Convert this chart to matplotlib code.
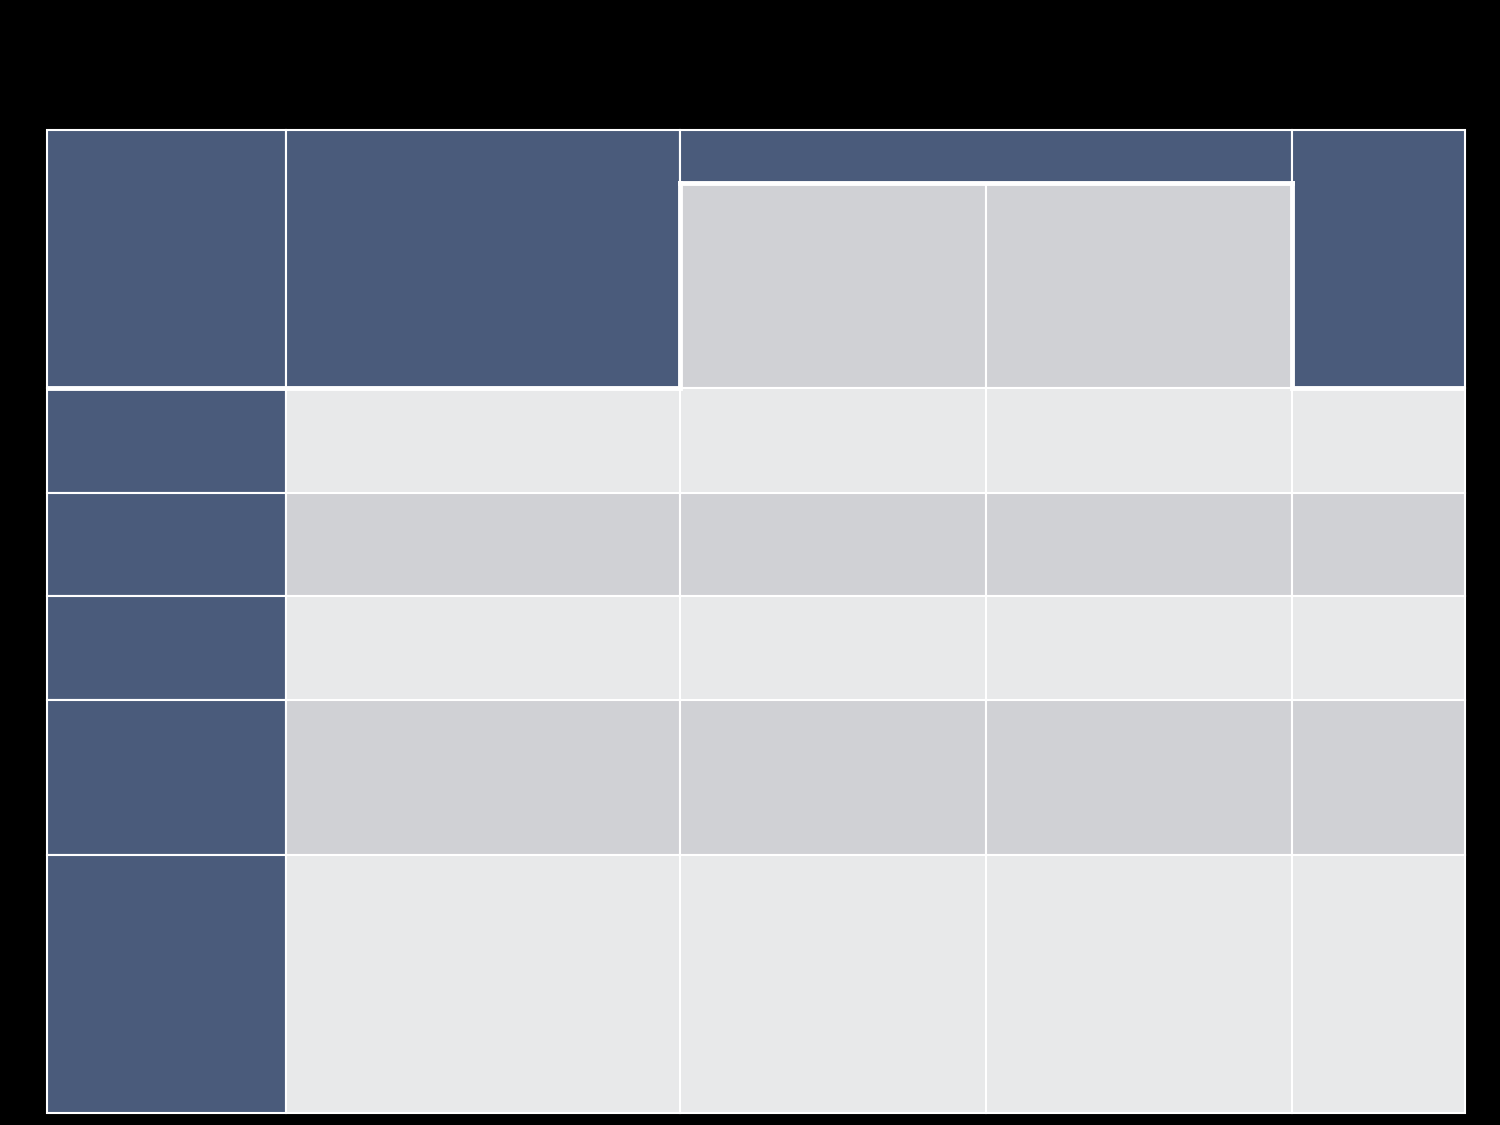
import numpy as np
import matplotlib
matplotlib.use('Agg')
from matplotlib import pyplot as plt
from matplotlib.patches import Rectangle

# table structure (pixel units of the 1500x1125 canvas), no text in the cells
col_widths = [239, 394, 306, 306, 173]
header_top = 53      # band above the two sub-header cells
header_sub = 205     # sub-header cells
row_heights = [105, 103, 104, 155, 258]
row_shades = ['light', 'mid', 'light', 'mid', 'light']

dark = '#4a5b7b'
mid = '#d0d1d5'
light = '#e8e9ea'
line = 'white'

x0, y0 = 47, 130
xs = x0 + np.concatenate([[0], np.cumsum(col_widths)])
header_h = header_top + header_sub
ys = y0 + header_h + np.concatenate([[0], np.cumsum(row_heights)])

fig = plt.figure(figsize=(15, 11.25), dpi=100, facecolor='black')
ax = fig.add_axes([0, 0, 1, 1])
ax.set_xlim(0, 1500)
ax.set_ylim(1125, 0)
ax.axis('off')
ax.set_facecolor('black')

def cell(x, y, w, h, c):
    ax.add_patch(Rectangle((x, y), w, h, facecolor=c, edgecolor=line, lw=1.5))

# header
cell(xs[0], y0, col_widths[0], header_h, dark)
cell(xs[1], y0, col_widths[1], header_h, dark)
cell(xs[2], y0, col_widths[2] + col_widths[3], header_top, dark)
cell(xs[2], y0 + header_top, col_widths[2], header_sub, mid)
cell(xs[3], y0 + header_top, col_widths[3], header_sub, mid)
cell(xs[4], y0, col_widths[4], header_h, dark)

# body rows
for i, h in enumerate(row_heights):
    cell(xs[0], ys[i], col_widths[0], h, dark)
    c = light if row_shades[i] == 'light' else mid
    for j in range(1, len(col_widths)):
        cell(xs[j], ys[i], col_widths[j], h, c)

# thick white rules
yb = y0 + header_h
ys_sub = y0 + header_top
ax.plot([xs[0], xs[2]], [yb, yb], color=line, lw=3.5, solid_capstyle='butt')
ax.plot([xs[4], xs[5]], [yb, yb], color=line, lw=3.5, solid_capstyle='butt')
ax.plot([xs[2], xs[4]], [ys_sub, ys_sub], color=line, lw=3.5, solid_capstyle='projecting')
ax.plot([xs[2], xs[2]], [ys_sub, yb], color=line, lw=3.5, solid_capstyle='projecting')
ax.plot([xs[4], xs[4]], [ys_sub, yb], color=line, lw=3.5, solid_capstyle='projecting')

fig.savefig('out.png', dpi=100, facecolor='black')
